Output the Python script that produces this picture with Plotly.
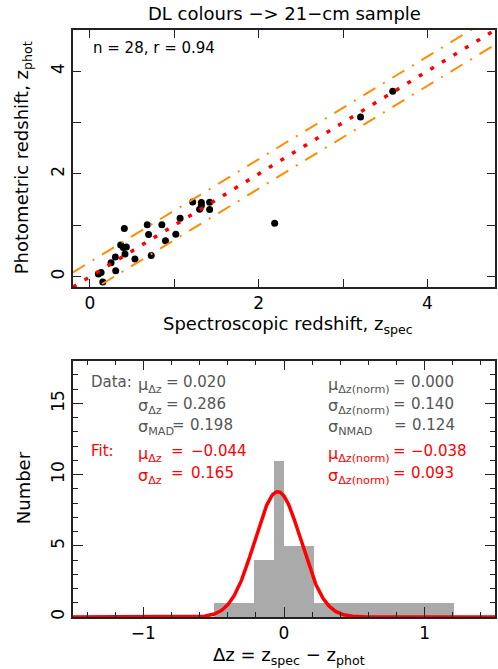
import numpy as np
import plotly.graph_objects as go

# ---------------- data ----------------
z_spec = [3.588, 3.207, 2.189, 1.218, 1.321, 1.321, 1.300, 1.419, 1.419, 1.069,
          0.853, 0.680, 0.696, 1.018, 0.896, 0.408, 0.365, 0.432, 0.396, 0.416,
          0.727, 0.534, 0.302, 0.251, 0.306, 0.133, 0.101, 0.153]
z_phot = [3.610, 3.107, 1.042, 1.456, 1.443, 1.385, 1.314, 1.450, 1.307, 1.139,
          1.010, 1.010, 0.822, 0.828, 0.699, 0.938, 0.615, 0.576, 0.570, 0.440,
          0.414, 0.343, 0.382, 0.272, 0.117, 0.084, 0.052, -0.103]

line_x = [-0.2, 4.8]          # extent of the one-to-one line
band = 0.286                  # sigma_dz band around the one-to-one line

bin_edges = [-0.50, -0.215, -0.068, 0.002, 0.214, 1.207]
bin_counts = [1, 4, 11, 5, 1]

fit_mu = -0.044
fit_sigma = 0.165
fit_amp = 8.8

title_text = "DL colours −> 21−cm sample"
stats_text = "n = 28, r = 0.94"

# ---------------- geometry helpers ----------------
W, H = 498, 669
ML, MR, MT, MB = 73, 1, 30, 52
PW, PH = W - ML - MR, H - MT - MB


def px(x):
    return (x - ML) / PW


def py(y):
    return (H - MB - y) / PH


FONT = "DejaVu Sans"
GRAY = "#555555"
RED = "#ff0000"
ORANGE = "#ff8c00"
FRAME = "#222222"

fig = go.Figure()

# ---------------- top panel ----------------
fig.add_trace(go.Scatter(x=z_spec, y=z_phot, mode="markers",
                         marker=dict(color="black", size=7),
                         xaxis="x", yaxis="y", hoverinfo="skip"))
line_y = list(line_x)
fig.add_trace(go.Scatter(x=line_x, y=[v + band for v in line_y], mode="lines",
                         line=dict(color=ORANGE, width=2, dash="14px,9px,2px,9px"),
                         xaxis="x", yaxis="y"))
fig.add_trace(go.Scatter(x=line_x, y=[v - band for v in line_y], mode="lines",
                         line=dict(color=ORANGE, width=2, dash="14px,9px,2px,9px"),
                         xaxis="x", yaxis="y"))
fig.add_trace(go.Scatter(x=line_x, y=line_y, mode="lines",
                         line=dict(color=RED, width=3.5, dash="4px,9.5px"),
                         xaxis="x", yaxis="y"))

# ---------------- bottom panel ----------------
centers = [(bin_edges[i] + bin_edges[i + 1]) / 2 for i in range(len(bin_counts))]
widths = [bin_edges[i + 1] - bin_edges[i] for i in range(len(bin_counts))]
fig.add_trace(go.Bar(x=centers, y=bin_counts, width=widths,
                     marker=dict(color="#aaaaaa", line=dict(width=0)),
                     xaxis="x2", yaxis="y2"))
gx = np.linspace(-1.5, 1.5, 601)
gy = fit_amp * np.exp(-0.5 * ((gx - fit_mu) / fit_sigma) ** 2)
fig.add_trace(go.Scatter(x=gx, y=gy, mode="lines",
                         line=dict(color=RED, width=3.5),
                         xaxis="x2", yaxis="y2"))

axis_common = dict(showline=True, mirror="allticks", linecolor=FRAME, linewidth=1.5,
                   ticks="inside", tickcolor=FRAME, tickwidth=1.3,
                   showgrid=False, zeroline=False,
                   tickfont=dict(family=FONT, size=17, color="black"))

fig.update_layout(
    width=W, height=H,
    margin=dict(l=ML, r=MR, t=MT, b=MB),
    paper_bgcolor="white", plot_bgcolor="white",
    showlegend=False,
    bargap=0,
    xaxis=dict(domain=[0, 1], anchor="y", range=[-0.2, 4.8],
               tick0=0, dtick=2, ticklen=8,
               minor=dict(dtick=1, tick0=0, ticks="inside", ticklen=8,
                          tickcolor=FRAME, tickwidth=1.3, showgrid=False),
               **axis_common),
    yaxis=dict(domain=[1 - 257 / PH, 1], anchor="x", range=[-0.2, 4.8],
               tick0=0, dtick=2, ticklen=8, tickangle=-90,
               minor=dict(dtick=1, tick0=0, ticks="inside", ticklen=8,
                          tickcolor=FRAME, tickwidth=1.3, showgrid=False),
               **axis_common),
    xaxis2=dict(domain=[0, 1], anchor="y2", range=[-1.5, 1.5],
                tick0=0, dtick=1, ticklen=10,
                minor=dict(dtick=0.2, tick0=0, ticks="inside", ticklen=5,
                           tickcolor=FRAME, tickwidth=1.3, showgrid=False),
                **axis_common),
    yaxis2=dict(domain=[0, (617 - 360.7) / PH], anchor="x2", range=[0, 18],
                tick0=0, dtick=5, ticklen=10, tickangle=-90,
                minor=dict(dtick=1, tick0=0, ticks="inside", ticklen=5,
                           tickcolor=FRAME, tickwidth=1.3, showgrid=False),
                **axis_common),
)

ann = []


def add_text(text, x, y, size=15, color="black", xanchor="left", angle=0, yshift=0):
    ann.append(dict(text=text, x=px(x), y=py(y), xref="paper", yref="paper",
                    showarrow=False, xanchor=xanchor, yanchor="middle",
                    textangle=angle, yshift=yshift,
                    font=dict(family=FONT, size=size, color=color)))


SUBSHIFT = -3
# titles
add_text(title_text, 285, 13, size=18, xanchor="center")
add_text("Spectroscopic redshift, z<sub>spec</sub>", 289, 322, size=18, xanchor="center", yshift=SUBSHIFT)
add_text("Photometric redshift, z<sub>phot</sub>", 23, 158, size=18, xanchor="center", angle=-90)
add_text("Number", 24, 488, size=18, xanchor="center", angle=-90)
add_text("Δz = z<sub>spec</sub> − z<sub>phot</sub>", 290, 653, size=18, xanchor="center", yshift=SUBSHIFT)
add_text(stats_text, 91, 48, size=15)

# stats block
rows = [
    # (y, color, label, left sym, left eq-x, left val, left val-x, right sym, right eq-x, right val, right val-x)
    (382, GRAY, "Data:", "μ<sub>Δz</sub>", 172.5, "0.020", 181.7, "μ<sub>Δz(norm)</sub>", 400.8, "0.000", 410.7),
    (403.8, GRAY, "", "σ<sub>Δz</sub>", 172.5, "0.286", 181.7, "σ<sub>Δz(norm)</sub>", 400.8, "0.140", 410.7),
    (424.5, GRAY, "", "σ<sub>MAD</sub>", 179.2, "0.198", 188.3, "σ<sub>NMAD</sub>", 401.7, "0.124", 411.7),
    (451.3, RED, "Fit:", "μ<sub>Δz</sub>", 178.3, "−0.044", 190, "μ<sub>Δz(norm)</sub>", 400.8, "−0.038", 410.7),
    (473, RED, "", "σ<sub>Δz</sub>", 178.3, "0.165", 190, "σ<sub>Δz(norm)</sub>", 400.8, "0.093", 410.7),
]
for (y, col, lab, ls, lex, lv, lvx, rs, rex, rv, rvx) in rows:
    if lab:
        add_text(lab, 89, y, color=col, size=15)
    add_text(ls, 136, y, color=col, yshift=SUBSHIFT, size=16)
    add_text("=", lex, y, color=col, xanchor="center")
    add_text(lv, lvx, y, color=col)
    add_text(rs, 327, y, color=col, yshift=SUBSHIFT, size=16)
    add_text("=", rex, y, color=col, xanchor="center")
    add_text(rv, rvx, y, color=col)

fig.update_layout(annotations=ann)
fig.write_html("out.html")
